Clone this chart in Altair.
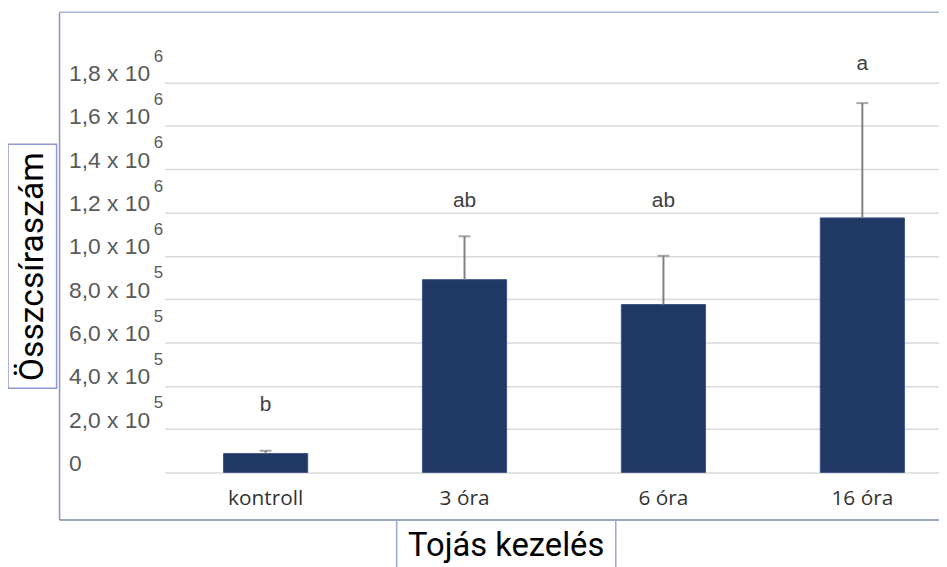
import altair as alt
import pandas as pd

# ---- data ----
categories = ["kontroll", "3 óra", "6 óra", "16 óra"]
means = [87000, 890000, 775000, 1175000]
upper = [100000, 1090000, 1000000, 1705000]
letters = ["b", "ab", "ab", "a"]
letter_heights = [311000, 1254000, 1254000, 1886000]
tick_values = [0, 200000, 400000, 600000, 800000, 1000000, 1200000, 1400000, 1600000, 1800000]
tick_labels = ["0", "2,0 x 10", "4,0 x 10", "6,0 x 10", "8,0 x 10",
               "1,0 x 10", "1,2 x 10", "1,4 x 10", "1,6 x 10", "1,8 x 10"]
tick_exponents = ["", "5", "5", "5", "5", "6", "6", "6", "6", "6"]

df = pd.DataFrame({"cat": categories, "mean": means, "upper": upper,
                   "letter": letters, "lh": letter_heights})
ticks_df = pd.DataFrame({"v": tick_values, "exp": tick_exponents})
one = pd.DataFrame({"k": [0]})

W, H = 781, 464
YMAX = 2124000
FRAME = "#8594c4"
LABEL_OFFSET = -9

label_map = "{" + ",".join(f"'{v}':'{l}'" for v, l in zip(tick_values, tick_labels)) + "}"

xenc = alt.X("cat:N", sort=categories,
             scale=alt.Scale(paddingInner=0.577, paddingOuter=0.235, align=0.63, round=False),
             axis=alt.Axis(title="Tojás kezelés", labelAngle=0, labelFont="Open Sans",
                           labelFontSize=21, labelColor="#333333", labelPadding=26,
                           labelBaseline="middle", ticks=False, domain=False,
                           titleFont="Roboto", titleFontSize=33, titleFontWeight="normal",
                           titleColor="#000000", titleX=344, titleY=74,
                           titleBaseline="middle", titleAlign="center"))
xplain = alt.X("cat:N", sort=categories)

yscale = alt.Scale(domain=[0, YMAX], nice=False, zero=True)

bars = alt.Chart(df).mark_bar(color="#203864", stroke="#3a5688", strokeWidth=1).encode(
    x=xenc,
    y=alt.Y("mean:Q", scale=yscale,
            axis=alt.Axis(values=tick_values, labelExpr=f"{label_map}[datum.value]",
                          grid=True, gridColor="#d9d9d9", gridWidth=1.5,
                          domain=False, ticks=False, labelAlign="left",
                          labelPadding=97, labelOffset=LABEL_OFFSET, labelFont="Liberation Sans",
                          labelFontSize=23, labelColor="#595959",
                          title="Összcsíraszám", titleFont="Roboto", titleFontSize=34,
                          titleFontWeight="normal", titleColor="#000000", titleAngle=270,
                          titleX=-133, titleY=256, titleBaseline="middle",
                          titleAlign="center")),
)

exps = alt.Chart(ticks_df).mark_text(font="Liberation Sans", fontSize=17, color="#595959",
                                     align="left", baseline="middle",
                                     dy=LABEL_OFFSET - 17).encode(
    x=alt.value(-11), y=alt.Y("v:Q", scale=yscale), text="exp:N")

err = alt.Chart(df).mark_rule(color="#808080", strokeWidth=2).encode(
    x=xplain, y=alt.Y("mean:Q", scale=yscale), y2="upper:Q")
cap = alt.Chart(df).mark_tick(color="#808080", size=12, thickness=2).encode(
    x=xplain, y=alt.Y("upper:Q", scale=yscale))
txt = alt.Chart(df).mark_text(font="Liberation Sans", fontSize=21, color="#404040",
                              baseline="middle").encode(
    x=xplain, y=alt.Y("lh:Q", scale=yscale), text="letter:N")

# decorative frame and title boxes
base = alt.Chart(one)
frame_left = base.mark_rule(color=FRAME, strokeWidth=1.5).encode(
    x=alt.value(-106), y=alt.value(0), y2=alt.value(512))
frame_top = base.mark_rule(color="#a8b4d4", strokeWidth=1.5).encode(
    x=alt.value(-106), x2=alt.value(W), y=alt.value(0))
frame_bottom = base.mark_rule(color="#7a88b0", strokeWidth=1.5).encode(
    x=alt.value(-106), x2=alt.value(W), y=alt.value(512))
xbox_l = base.mark_rule(color="#9da5dc", strokeWidth=1.5).encode(
    x=alt.value(234), y=alt.value(512), y2=alt.value(560))
xbox_r = base.mark_rule(color="#9da5dc", strokeWidth=1.5).encode(
    x=alt.value(455), y=alt.value(512), y2=alt.value(560))
ybox = base.mark_rect(fillOpacity=0, stroke="#8d98d0", strokeWidth=1.5).encode(
    x=alt.value(-158), x2=alt.value(-109), y=alt.value(133), y2=alt.value(379))

chart = alt.layer(bars, err, cap, txt, exps, frame_left, frame_top, frame_bottom,
                  xbox_l, xbox_r, ybox).properties(
    width=W, height=H,
    padding={"left": 158, "top": 2, "right": 0, "bottom": 93},
    autosize=alt.AutoSizeParams(type="none"),
    background="white",
).configure_view(stroke=None)

chart.save("out.html", embed_options={"renderer": "svg", "actions": False})
